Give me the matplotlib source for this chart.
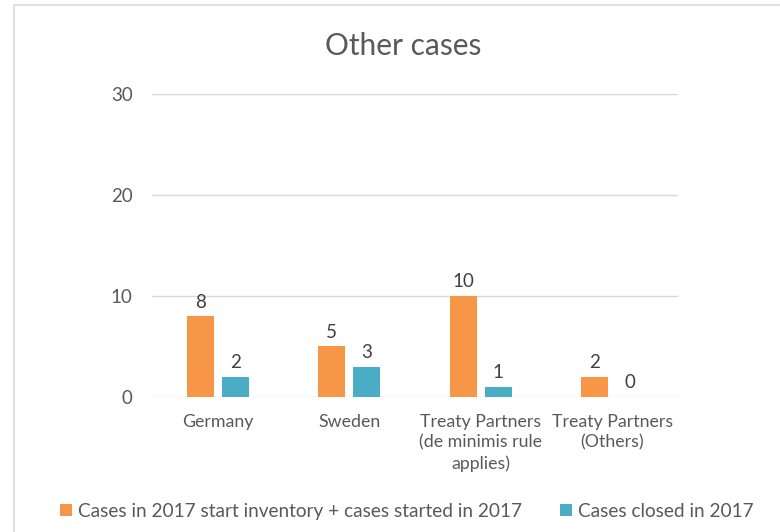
import numpy as np
import matplotlib
matplotlib.use('Agg')
from matplotlib import pyplot as plt
from matplotlib.patches import Rectangle

categories = ['Germany', 'Sweden', 'Treaty Partners\n(de minimis rule\napplies)', 'Treaty Partners\n(Others)']
started = [8, 5, 10, 2]
closed = [2, 3, 1, 0]
series_names = ['Cases in 2017 start inventory + cases started in 2017', 'Cases closed in 2017']
yticks = [0, 10, 20, 30]

plt.rcParams['font.family'] = ['Lato', 'DejaVu Sans']
txt = '#595959'
orange = '#F79646'
teal = '#4BACC6'

fig = plt.figure(figsize=(7.8, 5.32), dpi=100)
# chart frame
fig.patches.append(Rectangle((14/780, -0.1), 1.2, 1 - 5/532 + 0.1, transform=fig.transFigure,
                             fill=False, edgecolor='#D9D9D9', linewidth=1.2))
ax = fig.add_axes([0.195, 0.2538, 0.674, 0.5695])

x = np.arange(len(categories))
w = 0.205
off = 0.133
b1 = ax.bar(x - off, started, w, color=orange, label=series_names[0], zorder=3)
b2 = ax.bar(x + off, closed, w, color=teal, label=series_names[1], zorder=3)

for bars, vals in ((b1, started), (b2, closed)):
    for b, v in zip(bars, vals):
        ax.annotate(str(v), (b.get_x() + b.get_width() / 2, v), xytext=(0, 4),
                    textcoords='offset points', ha='center', va='bottom',
                    fontsize=13.5, color='#404040')

ax.set_xlim(-0.5, len(categories) - 0.5)
ax.set_ylim(0, 30)
ax.set_yticks(yticks)
ax.set_xticks(x)
ax.set_xticklabels(categories, fontsize=12.8, color=txt, linespacing=1.33)
ax.tick_params(axis='y', length=0, pad=14, labelsize=13.5, labelcolor=txt)
ax.tick_params(axis='x', length=0, pad=12.5)
ax.grid(axis='y', color='#D9D9D9', linewidth=1, zorder=0)
for s in ax.spines.values():
    s.set_visible(False)

fig.text(0.517, 0.913, 'Other cases', ha='center', va='center', fontsize=21.5, color=txt)
fig.legend(loc='center', bbox_to_anchor=(0.522, 0.039), ncol=2, frameon=False,
           fontsize=13.7, labelcolor=txt, handlelength=0.6, handleheight=0.6,
           handletextpad=0.35, columnspacing=2.0)

plt.savefig('out.png', dpi=100)
